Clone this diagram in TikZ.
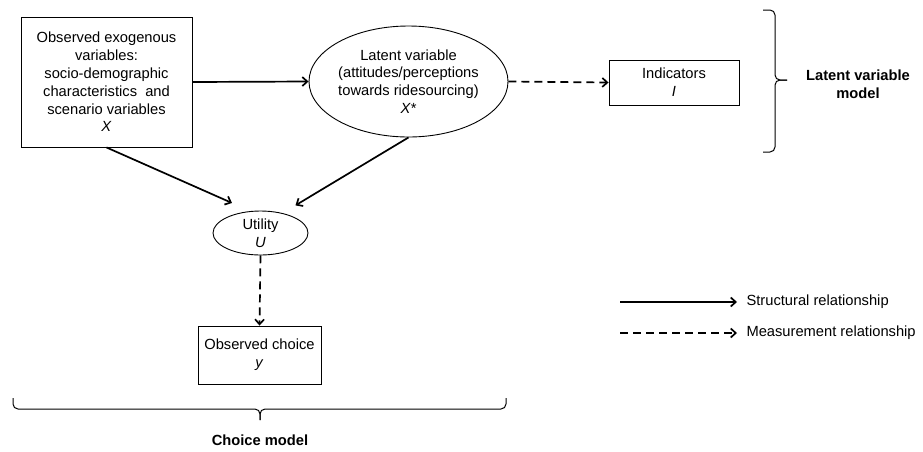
\documentclass[tikz,border=0pt]{standalone}
\usepackage{fontspec}
\setmainfont{Liberation Sans}
\usepackage{tikz}
\usetikzlibrary{shapes.geometric}
\usetikzlibrary{arrows.meta}

\newcommand{\dgmfont}{\fontsize{14.7}{17.8}\selectfont}

\tikzset{
  box/.style={draw,line width=.9pt,align=center,inner sep=0pt,font=\dgmfont},
  oval/.style={ellipse,draw,line width=.9pt,align=center,inner sep=0pt,font=\dgmfont},
  struct/.style={-{Straight Barb[length=5pt,width=9pt]},line width=1.7pt},
  meas/.style={-{Straight Barb[length=5pt,width=9pt]},line width=1.7pt,dash pattern=on 8pt off 5pt},
  curly/.style={line width=1pt,rounded corners=5pt},
  lbl/.style={font=\dgmfont,align=center}
}

\begin{document}
\begin{tikzpicture}[x=1pt,y=-1pt]
\useasboundingbox (0,0) rectangle (923,451);
\node[box,minimum width=171pt,minimum height=130pt] (xobs) at (106.5,82) {Observed exogenous\\variables:\\socio-demographic\\characteristics\ \ and\\scenario variables\\\textit{X}};
\node[oval,minimum width=199pt,minimum height=111pt] (lat) at (408.5,81.5) {Latent variable\\(attitudes/perceptions\\towards ridesourcing)\\\textit{X}*};
\node[box,minimum width=130pt,minimum height=45pt] (ind) at (674,82.5) {Indicators\\\textit{I}};
\node[oval,minimum width=95pt,minimum height=44pt] (util) at (260.5,233) {Utility\\\textit{U}};
\node[box,minimum width=123pt,minimum height=58pt] (choice) at (259.5,355) {Observed choice\\\textit{y}};

\draw[struct] (xobs.east) -- (lat.west);
\draw[meas] (lat.east) -- (ind.west);
\draw[struct,shorten >=20pt] (xobs.south) -- (util.115);
\draw[struct,shorten >=15pt] (lat.south) -- (util.42);
\draw[meas] (util.south) -- (choice.north);

\draw[curly] (763,10) -- (775,10) -- (775,80) -- (787,80);
\draw[curly] (763,152) -- (775,152) -- (775,80) -- (787,80);
\node[lbl,font=\dgmfont\bfseries] (lvm) at (858,84) {Latent variable\\model};
\draw[curly] (13,398) -- (13,409) -- (260,409) -- (260,420);
\draw[curly] (506,398) -- (506,409) -- (260,409) -- (260,420);
\node[lbl,font=\dgmfont\bfseries] (cm) at (260,440) {Choice model};

\coordinate (sa) at (620,302);
\coordinate (sb) at (737,302);
\draw[struct] (sa) -- (sb);
\node[lbl,anchor=west] (stxt) at (743,302) {Structural relationship};
\coordinate (ma) at (620,333);
\coordinate (mb) at (737,333);
\draw[meas] (ma) -- (mb);
\node[lbl,anchor=west] (mtxt) at (743,333) {Measurement relationship};
\end{tikzpicture}
\end{document}
